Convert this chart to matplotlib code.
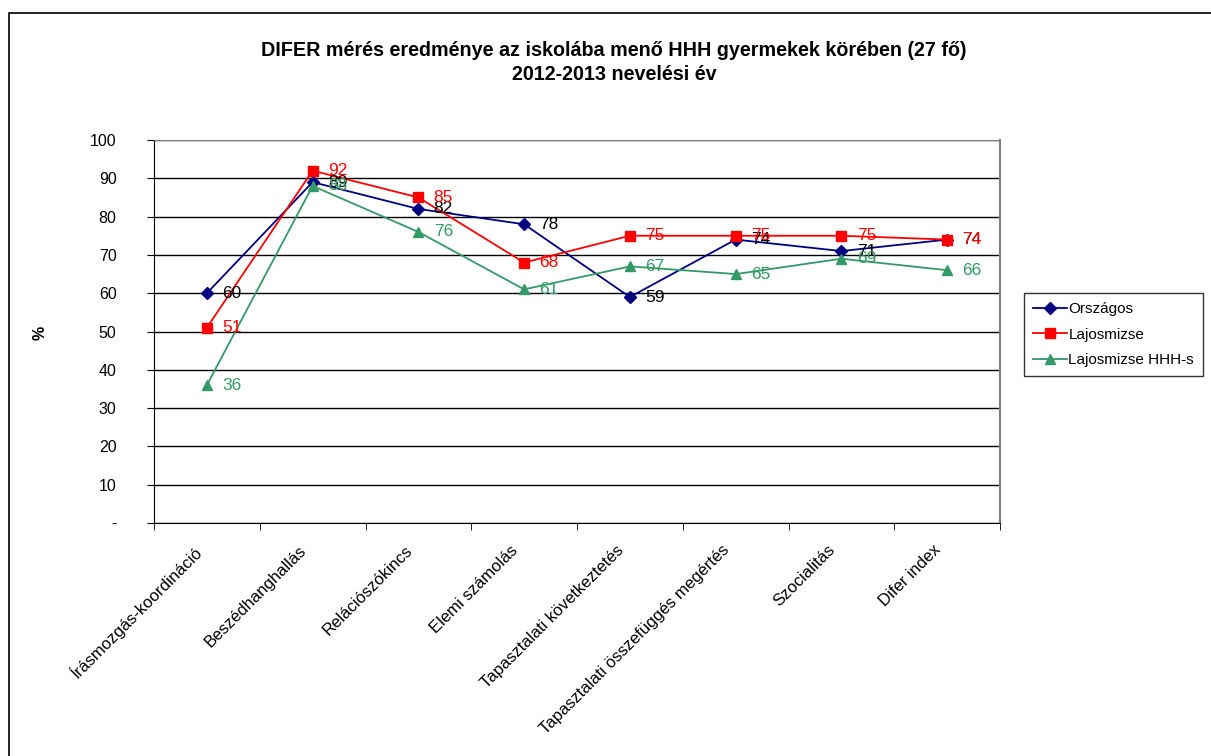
import matplotlib.pyplot as plt
from matplotlib.patches import Rectangle

plt.rcParams['font.family'] = ['Liberation Sans', 'DejaVu Sans']

categories = ['Írásmozgás-koordináció', 'Beszédhanghallás', 'Relációszókincs',
              'Elemi számolás', 'Tapasztalati következtetés',
              'Tapasztalati összefüggés megértés', 'Szocialitás', 'Difer index']
orszagos = [60, 89, 82, 78, 59, 74, 71, 74]
lajosmizse = [51, 92, 85, 68, 75, 75, 75, 74]
hhh = [36, 88, 76, 61, 67, 65, 69, 66]

series = [
    ('Országos', orszagos, '#000080', 'D', 'black', 6),
    ('Lajosmizse', lajosmizse, '#ff0000', 's', '#ff0000', 7),
    ('Lajosmizse HHH-s', hhh, '#339966', '^', '#339966', 7),
]

fig = plt.figure(figsize=(12.11, 7.56), dpi=100)
ax = fig.add_axes([154 / 1211, 1 - 523 / 756, 846 / 1211, 383 / 756])

# outer chart frame (cut off at right/bottom like the original)
fig.patches.append(Rectangle((9 / 1211, -0.1), 1.2, 1 - 13 / 756 + 0.1,
                             transform=fig.transFigure, fill=False,
                             edgecolor='black', linewidth=1.2))

x = list(range(len(categories)))
for name, vals, col, mk, lcol, ms in series:
    ax.plot(x, vals, color=col, marker=mk, markersize=ms, linewidth=1.3,
            label=name, clip_on=False)
    for xi, v in zip(x, vals):
        ax.annotate(str(v), (xi, v), xytext=(11, 0), textcoords='offset points',
                    va='center', ha='left', fontsize=12.5, color=lcol)

ax.set_xlim(-0.5, len(categories) - 0.5)
ax.set_ylim(0, 100)
ax.set_yticks(range(0, 101, 10))
ax.set_yticklabels(['-'] + [str(v) for v in range(10, 101, 10)], fontsize=11.5)
# labels sit a little left of the category centre (major ticks are hidden)
ax.set_xticks([xi - 0.13 for xi in x])
ax.set_xticklabels(categories, rotation=45, ha='right', rotation_mode='anchor',
                   fontsize=12)
ax.set_xticks([i - 0.5 for i in range(len(categories) + 1)], minor=True)
ax.tick_params(axis='x', which='major', length=0, pad=14)
ax.tick_params(axis='x', which='minor', length=5, direction='out')
ax.tick_params(axis='y', length=5, direction='out', pad=22)

ax.grid(axis='y', color='black', linewidth=1)
ax.set_axisbelow(True)
ax.spines['top'].set_color('#808080')
ax.spines['right'].set_color('#808080')
ax.spines['right'].set_linewidth(1.5)
ax.spines['left'].set_color('black')
ax.spines['bottom'].set_color('black')

fig.text(40 / 1211, 1 - 333 / 756, '%', rotation=90, fontsize=11.5,
         fontweight='bold', ha='center', va='center')

fig.text(614 / 1211, 1 - 50 / 756,
         'DIFER mérés eredménye az iskolába menő HHH gyermekek körében (27 fő)',
         ha='center', va='center', fontsize=14.2, fontweight='bold')
fig.text(614 / 1211, 1 - 75 / 756, '2012-2013 nevelési év',
         ha='center', va='center', fontsize=14.2, fontweight='bold')

leg = fig.legend(loc='upper left', bbox_to_anchor=(1024 / 1211, 1 - 293 / 756),
                 fontsize=11, frameon=True, fancybox=False, edgecolor='black',
                 borderpad=0.6, labelspacing=0.75, handlelength=2.2,
                 handletextpad=0.1, borderaxespad=0)
leg.get_frame().set_linewidth(1)

fig.savefig('out.png', dpi=100)
